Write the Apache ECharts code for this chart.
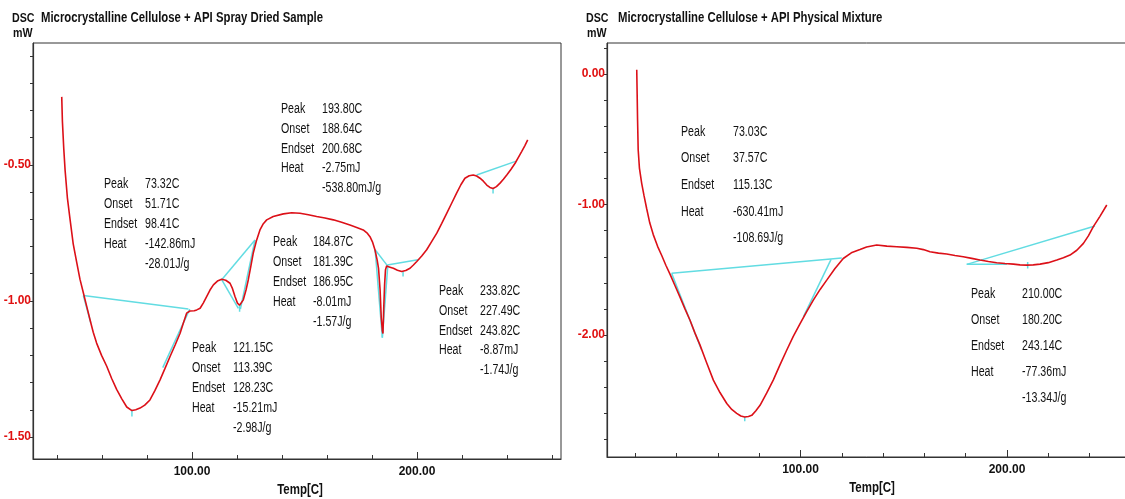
<!DOCTYPE html>
<html><head><meta charset="utf-8">
<script src="https://cdn.jsdelivr.net/npm/echarts@6/dist/echarts.min.js"></script>
<style>html,body{margin:0;padding:0;background:#fff}#c{width:1125px;height:499px}</style>
</head><body><div id="c"></div>
<script>
const FONT = "'Liberation Sans',Arial,sans-serif";
const NARROW = 0.76; // horizontal squeeze for condensed lettering

// ---- Left: Spray Dried Sample ----
const leftTemp = [42.1,42.4,43.0,43.6,44.6,45.8,47.2,48.8,50.2,51.7,53.2,54.7,56.1,57.6,59.8,62.1,64.3,66.5,68.8,71.0,73.3,75.0,76.9,79.0,81.3,83.5,85.8,88.0,90.2,92.5,94.7,96.2,97.6,99.1,101.0,102.1,103.6,105.0,106.5,108.0,109.5,111.3,113.2,115.0,116.9,118.0,119.1,120.2,121.15,122.0,122.8,124.0,125.0,126.1,127.2,128.6,130.2,131.7,133.2,136.1,140.6,144.3,148.0,151.7,155.4,159.1,162.8,166.5,170.2,173.2,176.1,178.0,179.1,180.3,181.3,182.3,182.9,183.6,184.1,184.6,184.87,185.2,185.6,186.0,186.5,188.0,189.5,191.3,193.2,193.8,195.0,196.9,198.4,199.9,202.1,204.3,206.5,208.8,211.0,213.2,215.4,217.6,219.5,221.3,223.2,225.0,226.5,228.0,229.5,231.0,232.4,233.8,235.3,236.9,238.4,239.9,241.8,243.6,245.0,246.5,247.9,249.2];
const leftDsc = [-0.25,-0.34,-0.44,-0.52,-0.62,-0.70,-0.79,-0.86,-0.92,-0.97,-1.02,-1.07,-1.115,-1.155,-1.20,-1.24,-1.285,-1.325,-1.36,-1.39,-1.403,-1.40,-1.394,-1.383,-1.364,-1.33,-1.29,-1.248,-1.205,-1.162,-1.119,-1.08,-1.045,-1.037,-1.036,-1.033,-1.027,-1.008,-0.984,-0.96,-0.941,-0.927,-0.920,-0.924,-0.935,-0.955,-0.984,-1.008,-1.016,-1.010,-0.996,-0.96,-0.923,-0.875,-0.825,-0.78,-0.739,-0.716,-0.702,-0.690,-0.680,-0.676,-0.678,-0.683,-0.690,-0.695,-0.702,-0.711,-0.721,-0.730,-0.739,-0.752,-0.764,-0.785,-0.812,-0.85,-0.88,-0.96,-1.06,-1.11,-1.12,-1.03,-0.94,-0.885,-0.872,-0.876,-0.880,-0.887,-0.892,-0.892,-0.888,-0.880,-0.868,-0.855,-0.835,-0.812,-0.782,-0.751,-0.715,-0.678,-0.641,-0.604,-0.573,-0.549,-0.540,-0.537,-0.541,-0.549,-0.560,-0.574,-0.583,-0.587,-0.580,-0.567,-0.553,-0.537,-0.516,-0.494,-0.473,-0.451,-0.430,-0.408];

// ---- Right: Physical Mixture ----
const rightTemp = [20.7,20.9,21.1,21.4,22.0,23.1,24.2,25.5,27.0,28.7,30.8,32.8,34.8,36.8,39.2,41.6,44.0,46.5,48.9,51.3,54.5,57.8,61.0,64.3,66.7,69.1,71.1,73.0,74.8,76.4,78.4,80.4,83.6,86.8,90.0,93.3,96.5,99.8,103.0,106.2,109.5,112.7,116.7,120.7,124.6,128.8,132.0,136.9,141.8,146.6,151.5,156.3,159.5,162.7,166.8,170.8,174.8,178.8,182.9,186.9,191.0,195.0,199.0,203.1,206.3,209.5,212.7,216.0,220.0,224.1,227.3,230.5,233.8,237.0,239.4,241.8,245.0,248.3];
const rightDsc = [0.033,-0.15,-0.35,-0.58,-0.72,-0.837,-0.93,-1.03,-1.14,-1.23,-1.32,-1.39,-1.465,-1.533,-1.62,-1.707,-1.797,-1.886,-1.985,-2.075,-2.21,-2.345,-2.44,-2.524,-2.57,-2.60,-2.62,-2.628,-2.624,-2.615,-2.58,-2.538,-2.445,-2.345,-2.23,-2.116,-2.01,-1.913,-1.82,-1.732,-1.65,-1.579,-1.49,-1.413,-1.37,-1.345,-1.325,-1.310,-1.318,-1.323,-1.328,-1.335,-1.345,-1.362,-1.372,-1.379,-1.39,-1.40,-1.412,-1.425,-1.436,-1.446,-1.452,-1.456,-1.462,-1.464,-1.462,-1.456,-1.445,-1.425,-1.408,-1.387,-1.35,-1.297,-1.24,-1.169,-1.09,-1.003];

// analysis (baseline / tangent / peak) segments: [t1, v1, t2, v2]
const leftCyan = [
  [51.7,-0.98,98.4,-1.03],[51.7,-0.98,55.0,-1.08],[99.0,-1.03,87.0,-1.245],[73.3,-1.40,73.3,-1.425],
  [113.2,-0.922,128.0,-0.776],[113.2,-0.922,120.6,-1.027],[121.5,-1.03,128.0,-0.776],[121.15,-1.015,121.15,-1.04],
  [181.4,-0.812,184.6,-1.135],[184.6,-1.135,187.0,-0.872],[181.4,-0.812,187.0,-0.872],
  [186.8,-0.868,200.4,-0.849],[193.8,-0.892,193.8,-0.91],
  [226.5,-0.537,243.8,-0.487],[233.8,-0.587,233.8,-0.605]
];
const rightCyan = [
  [37.6,-1.527,120.0,-1.41],[37.6,-1.527,52.0,-2.11],[114.8,-1.42,101.4,-1.86],[73.0,-2.628,73.0,-2.66],
  [180.5,-1.458,199.9,-1.458],[180.5,-1.458,242.6,-1.164],[210.0,-1.44,210.0,-1.49]
];

// tick / label values
const leftXTicks = [40,60,80,100,120,140,160,180,200,220,240,260];
const rightXTicks = [20,40,60,80,100,120,140,160,180,200,220,240];
const xMajor = [100,200];
const leftYTicks = [-1.5,-1.4,-1.3,-1.2,-1.1,-1.0,-0.9,-0.8,-0.7,-0.6,-0.5,-0.4,-0.3,-0.2,-0.1];
const leftYLabels = [-1.5,-1.0,-0.5];
const rightYTicks = [-2.8,-2.6,-2.4,-2.2,-2.0,-1.8,-1.6,-1.4,-1.2,-1.0,-0.8,-0.6,-0.4,-0.2,0,0.2];
const rightYLabels = [-2,-1,0];

// texts
const titles = ['Microcrystalline Cellulose + API Spray Dried Sample','Microcrystalline Cellulose + API Physical Mixture'];
const xName = 'Temp[C]';
const rowLabels = ['Peak','Onset','Endset','Heat',''];
const leftBlocks = [
  ['73.32C','51.71C','98.41C','-142.86mJ','-28.01J/g'],
  ['121.15C','113.39C','128.23C','-15.21mJ','-2.98J/g'],
  ['193.80C','188.64C','200.68C','-2.75mJ','-538.80mJ/g'],
  ['184.87C','181.39C','186.95C','-8.01mJ','-1.57J/g'],
  ['233.82C','227.49C','243.82C','-8.87mJ','-1.74J/g']
];
const rightBlocks = [
  ['73.03C','37.57C','115.13C','-630.41mJ','-108.69J/g'],
  ['210.00C','180.20C','243.14C','-77.36mJ','-13.34J/g']
];

// ---- layout (pixels) ----
const blockPos = [ // labelX, valueX, firstY, gap
  [104,145,184,20],[192,233,348.3,20],[281,322,109.5,19.7],[273,313,242,20],[439,480,291.5,19.6],
  [681,733,131.7,26.7],[971,1022,294,26]
];
const allBlocks = leftBlocks.concat(rightBlocks);

function ntext(x, y, text, font, sx, align) {
  return {type:'text', x, y, scaleX:sx, silent:true,
    style:{text, font, fill:'#111', align:align || 'left', verticalAlign:'middle'}};
}
const graphics = [];
allBlocks.forEach((b, i) => {
  const [lx, vx, y0, g] = blockPos[i];
  b.forEach((v, r) => {
    if (rowLabels[r]) graphics.push(ntext(lx, y0 + r*g, rowLabels[r], '14px ' + FONT, NARROW));
    graphics.push(ntext(vx, y0 + r*g, v, '14px ' + FONT, NARROW));
  });
});
[[12,41,0],[586,618,1]].forEach(([x,tx,i]) => {
  graphics.push(ntext(x, 18, 'DSC', 'bold 13px ' + FONT, 0.82));
  graphics.push(ntext(x+1, 33, 'mW', 'bold 13px ' + FONT, 0.82));
  graphics.push(ntext(tx, 18, titles[i], 'bold 14px ' + FONT, 0.81));
});
graphics.push(ntext(300, 490, xName, 'bold 14px ' + FONT, 0.82, 'center'));
graphics.push(ntext(872, 488, xName, 'bold 14px ' + FONT, 0.82, 'center'));

const RED = '#dc1018', CYAN = '#62dce2', AX = '#333';
const fmt = v => v.toFixed(2);

function xAx(grid, min, max, ticks, major) {
  return [{
    type:'value', gridIndex:grid, min, max, position:'bottom',
    axisLine:{show:true, onZero:false, lineStyle:{color:AX, width:1.2}},
    axisTick:{show:true, inside:true, length:4, customValues:ticks, lineStyle:{color:AX}},
    axisLabel:{show:true, customValues:major, formatter:fmt, margin:7, color:'#111', fontFamily:FONT, fontWeight:'bold', fontSize:12},
    splitLine:{show:false}
  },{
    type:'value', gridIndex:grid, min, max, position:'bottom',
    axisLine:{show:false, onZero:false},
    axisTick:{show:true, inside:true, length:7, customValues:major, lineStyle:{color:AX}},
    axisLabel:{show:false}, splitLine:{show:false}
  }];
}
function yAx(grid, min, max, ticks, labels) {
  return {
    type:'value', gridIndex:grid, min, max, position:'left',
    axisLine:{show:true, onZero:false, lineStyle:{color:AX, width:1.2}},
    axisTick:{show:true, inside:false, length:3, customValues:ticks, lineStyle:{color:AX}},
    axisLabel:{show:true, customValues:labels, formatter:fmt, margin:2, color:'#e01010', fontFamily:FONT, fontWeight:'bold', fontSize:12},
    splitLine:{show:false}
  };
}

const lx = xAx(0, 29.33, 264, leftXTicks, xMajor);
const rx = xAx(1, 6.3, 258.1, rightXTicks, xMajor);

const series = [];
function addCyan(segs, xi, yi) {
  segs.forEach(s => series.push({type:'line', xAxisIndex:xi, yAxisIndex:yi, showSymbol:false, silent:true,
    lineStyle:{color:CYAN, width:1.5}, data:[[s[0],s[1]],[s[2],s[3]]], z:2}));
}
series.push({type:'line', xAxisIndex:0, yAxisIndex:0, showSymbol:false, lineStyle:{color:RED, width:1.6},
  data:leftTemp.map((t,i)=>[t,leftDsc[i]]), z:3});
series.push({type:'line', xAxisIndex:1, yAxisIndex:1, showSymbol:false, lineStyle:{color:RED, width:1.6},
  data:rightTemp.map((t,i)=>[t,rightDsc[i]]), z:3});
addCyan(leftCyan, 0, 0);
addCyan(rightCyan, 1, 1);

const chart = echarts.init(document.getElementById('c'), null, {renderer:'canvas'});
chart.setOption({
  backgroundColor:'#fff',
  animation:false,
  grid:[
    {left:33, top:43, width:528, height:416, containLabel:false, outerBoundsMode:'none', show:true, borderColor:AX, borderWidth:1, backgroundColor:'transparent'},
    {left:607, top:43, width:520, height:414, containLabel:false, outerBoundsMode:'none', show:true, borderColor:AX, borderWidth:1, backgroundColor:'transparent'}
  ],
  xAxis:[lx[0], rx[0], lx[1], rx[1]],
  yAxis:[yAx(0, -1.581, -0.052, leftYTicks, leftYLabels), yAx(1, -2.934, 0.238, rightYTicks, rightYLabels)],
  series,
  graphic:graphics
});
</script></body></html>
